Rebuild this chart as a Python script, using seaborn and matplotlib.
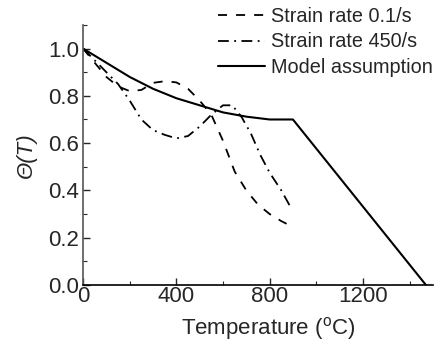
import matplotlib
matplotlib.use("Agg")
import matplotlib.pyplot as plt
import seaborn as sns
import numpy as np
from matplotlib.ticker import MultipleLocator, FormatStrFormatter

sns.set_style("ticks")
plt.rcParams['font.family'] = ['Liberation Sans', 'DejaVu Sans']
plt.rcParams['mathtext.fontset'] = 'custom'
plt.rcParams['mathtext.rm'] = 'Liberation Sans'
plt.rcParams['mathtext.it'] = 'Liberation Sans:italic'

# Strain rate 0.1/s (dashed)
t_slow = [0, 50, 100, 150, 200, 250, 300, 350, 400, 450, 500, 550, 600, 650, 700, 750, 800, 850, 890]
v_slow = [1.0, 0.94, 0.88, 0.84, 0.82, 0.825, 0.855, 0.862, 0.857, 0.83, 0.78, 0.72, 0.61, 0.48, 0.40, 0.34, 0.30, 0.27, 0.25]

# Strain rate 450/s (dash-dot)
t_fast = [0, 50, 100, 150, 200, 250, 300, 350, 400, 450, 500, 550, 600, 640, 680, 720, 760, 800, 850, 895]
v_fast = [1.0, 0.95, 0.90, 0.85, 0.78, 0.70, 0.655, 0.635, 0.62, 0.63, 0.67, 0.72, 0.76, 0.76, 0.71, 0.64, 0.55, 0.475, 0.40, 0.32]

# Model assumption (solid)
t_model = [0, 100, 200, 300, 400, 500, 600, 700, 800, 900, 1470]
v_model = [1.0, 0.94, 0.88, 0.83, 0.79, 0.76, 0.73, 0.712, 0.70, 0.70, 0.0]

fig = plt.figure(figsize=(4.35, 3.42), dpi=100)
ax = fig.add_axes([0.191, 0.167, 0.804, 0.76])

sns.lineplot(x=t_slow, y=v_slow, ax=ax, color='black', lw=1.3,
             label='Strain rate 0.1/s', sort=False, dashes=False)
sns.lineplot(x=t_fast, y=v_fast, ax=ax, color='black', lw=1.3,
             label='Strain rate 450/s', sort=False, dashes=False)
sns.lineplot(x=t_model, y=v_model, ax=ax, color='black', lw=1.5,
             label='Model assumption', sort=False, dashes=False)
lines = ax.get_lines()
lines[0].set_dashes([5, 5])
lines[1].set_dashes([6, 3, 1, 3])
lines[2].set_linestyle('-')

ax.set_xlim(0, 1500)
ax.set_ylim(0, 1.1)
ax.set_xticks([0, 400, 800, 1200])
ax.xaxis.set_minor_locator(MultipleLocator(200))
ax.yaxis.set_major_locator(MultipleLocator(0.2))
ax.yaxis.set_minor_locator(MultipleLocator(0.1))
ax.yaxis.set_major_formatter(FormatStrFormatter('%.1f'))
ax.tick_params(which='major', direction='in', length=5, width=1, labelsize=16)
ax.tick_params(axis='x', which='major', pad=1)
ax.tick_params(axis='y', which='major', pad=3)
ax.tick_params(which='minor', direction='in', length=3, width=0.8)
ax.tick_params(axis='x', which='both', top=False)
ax.tick_params(axis='y', which='both', right=False)

for s in ['top', 'right']:
    ax.spines[s].set_visible(False)
ax.spines['left'].set_color('#555555')
ax.spines['bottom'].set_color('black')
ax.spines['left'].set_linewidth(1.2)
ax.spines['bottom'].set_linewidth(1.2)

ax.set_xlabel(r'Temperature ($^{\rm o}$C)', fontsize=16, labelpad=0)
ax.xaxis.set_label_coords(0.53, -0.115)
ax.set_ylabel('Θ(T)', fontsize=16, style='italic', labelpad=8)

leg = ax.legend(loc='upper right', bbox_to_anchor=(1.0, 0.985), bbox_transform=fig.transFigure,
                frameon=False, fontsize=14.3, handlelength=2.4, handletextpad=0.3,
                labelspacing=0.32, borderaxespad=0.0, borderpad=0.1)

fig.savefig('out.png', dpi=100)
